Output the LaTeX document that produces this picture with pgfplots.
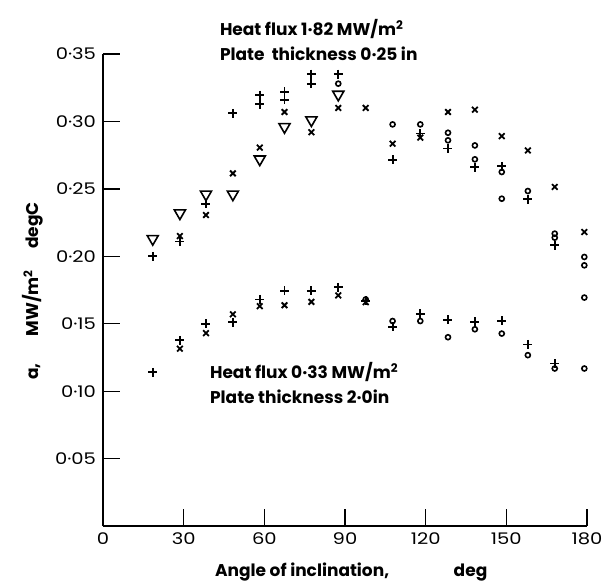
\documentclass[border=0pt]{standalone}
\usepackage{fontspec}
\setmainfont{Poppins}
\newfontfamily\tickfont{Poppins}[FakeStretch=1.22]
\usepackage{pgfplots}
\pgfplotsset{compat=1.18}

% inclination columns (deg)
\pgfplotstableread{
x y
18.5 0.200
28.6 0.211
38.3 0.239
48.3 0.306
58.3 0.3195
58.3 0.3128
67.5 0.322
67.5 0.316
77.5 0.335
77.5 0.328
87.5 0.335
107.7 0.2716
118 0.291
128.3 0.280
138.3 0.2662
148.3 0.2667
158 0.2422
168 0.2081
18.5 0.114
28.6 0.1377
38.3 0.150
48.3 0.151
58.3 0.168
67.5 0.1743
77.5 0.1743
87.5 0.177
97.7 0.167
107.7 0.1477
118 0.1575
128.3 0.153
138.3 0.1513
148.3 0.1523
158 0.1346
168 0.1205
}\plusdata

\pgfplotstableread{
x y
28.6 0.215
38.3 0.2306
48.3 0.2615
58.3 0.2806
67.5 0.307
77.5 0.292
87.5 0.310
97.7 0.310
107.7 0.2835
118 0.288
128.3 0.307
138.3 0.3087
148.3 0.2891
158 0.2785
168 0.2514
179 0.218
28.6 0.1315
38.3 0.143
48.3 0.157
58.3 0.163
67.5 0.1637
77.5 0.1662
87.5 0.171
97.7 0.166
}\crossdata

\pgfplotstableread{
x y
18.5 0.213
28.6 0.232
38.3 0.246
48.3 0.246
58.3 0.272
67.5 0.296
77.5 0.301
87.5 0.320
}\tridata

\pgfplotstableread{
x y
87.5 0.328
107.7 0.2978
118 0.2978
128.3 0.2916
128.3 0.286
138.3 0.2822
138.3 0.2719
148.3 0.2625
148.3 0.2427
158 0.2484
168 0.2168
168 0.2138
179 0.1995
179 0.1933
179 0.1694
97.7 0.168
107.7 0.152
118 0.152
128.3 0.140
138.3 0.1459
148.3 0.1427
158 0.1267
168 0.1168
179 0.1168
}\circdata

\begin{document}
\begin{tikzpicture}
\begin{axis}[
    width=242pt, height=236pt, scale only axis,
    xmin=0, xmax=180, ymin=0, ymax=0.35,
    axis lines=left,
    axis line style={line width=1.1pt, -},
    clip=false,
    tick align=inside,
    major tick length=8.3pt,
    every tick/.style={black, line width=0.65pt},
    xtick={0,30,60,90,120,150,180},
    xticklabels={0,30,60,90,120,150,180},
    ytick={0.05,0.1,0.15,0.2,0.25,0.3,0.35},
    yticklabels={0·05,0·10,0·15,0·20,0·25,0·30,0·35},
    tick label style={font=\tickfont\fontsize{8}{9}\selectfont},
    every axis x label/.style={at={(axis description cs:0.217,-0.106)}, anchor=base west, font=\fontsize{8.5}{10}\selectfont\bfseries},
    every axis y label/.style={at={(axis description cs:-0.134,0.2945)}, anchor=base west, rotate=90, font=\fontsize{8.5}{10}\selectfont\bfseries},
    xlabel={Angle of inclination,\hspace{3.8em}deg},
    ylabel={a,\hspace{1.6em}MW/m\textsuperscript{2}\hspace{1.2em}degC},
    only marks,
]
\addplot[mark=+, mark size=2.25pt, line width=0.9pt] table {\plusdata};
\addplot[mark=x, mark size=2pt, line width=0.9pt] table {\crossdata};
\addplot[mark=triangle, mark size=3.2pt, line width=0.8pt,
         every mark/.append style={rotate=180}] table {\tridata};
\addplot[mark=o, mark size=1.25pt, line width=0.8pt] table {\circdata};

\node[anchor=base west, font=\fontsize{8.5}{10}\selectfont\bfseries] at (axis cs:40.9,0.3637) {Heat flux 1·82 MW/m\textsuperscript{2}};
\node[anchor=base west, font=\fontsize{8.5}{10}\selectfont\bfseries] at (axis cs:40.9,0.345) {Plate \ thickness 0·25 in};
\node[anchor=base west, font=\fontsize{8.5}{10}\selectfont\bfseries] at (axis cs:37.2,0.1096) {Heat flux 0·33 MW/m\textsuperscript{2}};
\node[anchor=base west, font=\fontsize{8.5}{10}\selectfont\bfseries] at (axis cs:37.2,0.0911) {Plate thickness 2·0in};

\coordinate (BL) at (rel axis cs:-0.2128,-0.1165);
\coordinate (TR) at (rel axis cs:1.0475,1.1144);
\end{axis}
\pgfresetboundingbox
\path (BL) rectangle (TR);
\end{tikzpicture}
\end{document}
